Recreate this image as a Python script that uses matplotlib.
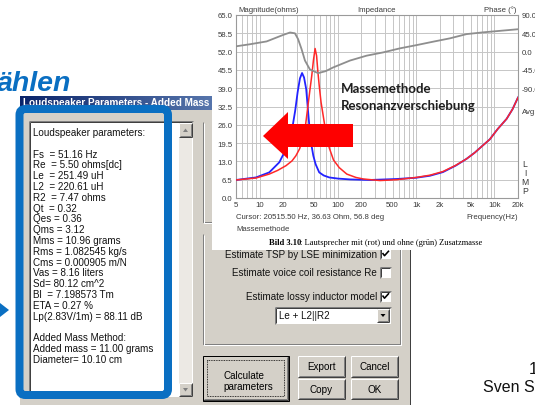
import numpy as np
import matplotlib.pyplot as plt
from matplotlib.patches import Rectangle, FancyBboxPatch, Polygon
from matplotlib.colors import LinearSegmentedColormap
from matplotlib.ticker import LogLocator, NullFormatter

plt.rcParams['font.family'] = ['Liberation Sans', 'DejaVu Sans']

# Impedanz ohne Zusatzmasse (blau): Frequenz in Hz, Betrag in Ohm
freq_ohne = [5, 9, 13.3, 17.9, 21.8, 24, 26.5, 28.5, 30.6, 32.8, 34.9, 37, 39.4, 41.3,
             43.2, 45.5, 48.6, 52, 57.8, 66, 77.7, 100, 143, 255, 564, 1000, 1500, 2200,
             3200, 4400, 5600, 7000, 8700, 11000, 14300, 17000, 20000]
z_ohne = [6.4, 7.3, 9.1, 12.7, 17.4, 21, 25.7, 31, 37.5, 42.5, 44.4, 42.8, 38.7, 32,
          25.7, 19.5, 15.0, 12, 9.1, 8.0, 7.3, 6.9, 6.6, 6.4, 6.75, 7.2, 7.9, 9.2,
          11.5, 13.9, 16.1, 18.5, 20.8, 24.5, 28.1, 31.5, 35.7]

# Impedanz mit Zusatzmasse (rot)
freq_mit = [5, 9, 13.3, 17, 21.8, 26, 29.1, 32.5, 35.6, 38.5, 41, 43.8, 46.4, 48.8, 51.2,
            53.5, 55.5, 57.8, 61, 65, 71, 77.7, 88, 104, 130, 170, 212, 345, 564, 1000,
            1500, 2200, 3200, 4400, 5600, 7000, 8700, 11000, 14300, 17000, 20000]
z_mit = [6.4, 7.1, 8.5, 9.8, 11.5, 13.2, 15.0, 17.5, 21.0, 25.5, 31.6, 38.0, 43.4, 49.0, 53.1,
         50.5, 45, 39.9, 34.0, 29.2, 22.5, 17.8, 13.5, 10.8, 8.5, 7.3, 6.75, 6.2, 6.5, 7.3,
         8.1, 9.4, 11.6, 13.9, 16.1, 18.5, 20.8, 24.5, 28.1, 31.5, 35.7]

# Phase (grau) in Grad
freq_phase = [5, 7.5, 12.3, 20, 24.5, 28.3, 31, 34.4, 38, 44, 56, 70, 87, 143, 233, 378,
              621, 1015, 1660, 2700, 4400, 7200, 11700, 20000]
phase_deg = [13, 18, 25, 41, 47, 45, 31, 6, -22, -44, -53, -48, -39, -22, -10, -2,
             8, 16, 24.5, 32.6, 43, 47.4, 51, 55]

mag_ticks = [0.0, 6.5, 13.0, 19.5, 26.0, 32.5, 39.0, 45.5, 52.0, 58.5, 65.0]
phase_ticks = [-90, -45, 0, 45, 90]
freq_ticks = [5, 10, 20, 50, 100, 200, 500, 1000, 2000, 5000, 10000, 20000]
freq_labels = ['5', '10', '20', '50', '100', '200', '500', '1k', '2k', '5k', '10k', '20k']

params = ['Loudspeaker parameters:', '',
          'Fs  = 51.16 Hz', 'Re  = 5.50 ohms[dc]', 'Le  = 251.49 uH', 'L2  = 220.61 uH',
          'R2  = 7.47 ohms', 'Qt  = 0.32', 'Qes = 0.36', 'Qms = 3.12', 'Mms = 10.96 grams',
          'Rms = 1.082545 kg/s', 'Cms = 0.000905 m/N', 'Vas = 8.16 liters',
          'Sd= 80.12 cm^2', 'Bl  = 7.198573 Tm', 'ETA = 0.27 %',
          'Lp(2.83V/1m) = 88.11 dB', '',
          'Added Mass Method:', 'Added mass = 11.00 grams', 'Diameter= 10.10 cm']

options = ['Estimate TSP by LSE minimization', 'Estimate voice coil resistance Re',
           'Estimate lossy inductor model']
options_on = [True, False, True]

W, H = 535, 406
PX = 0.72
GREY = '#d4d0c8'
BLUE = '#0a6fc2'
FS = 7.1

fig = plt.figure(figsize=(W / 100, H / 100), dpi=100)
bg = fig.add_axes([0, 0, 1, 1])
bg.axis('off')


def box(x0, y0, x1, y1, fc, ec='none', lw=1, z=1):
    bg.add_patch(Rectangle((x0, y0), x1 - x0, y1 - y0, fc=fc, ec=ec, lw=lw * PX, zorder=z))


def line(xs, ys, c, lw=1, z=3, ls='-'):
    bg.plot(xs, ys, color=c, lw=lw * PX, zorder=z, ls=ls, solid_capstyle='butt')


def raised(x0, y0, x1, y1, z=3):
    box(x0, y0, x1, y1, GREY, z=z)
    line([x0, x1], [y0, y0], 'white', z=z)
    line([x0, x0], [y0, y1], 'white', z=z)
    line([x0, x1], [y1, y1], '#404040', z=z)
    line([x1, x1], [y0, y1], '#404040', z=z)
    line([x0 + 1, x1 - 1], [y1 - 1, y1 - 1], '#808080', z=z)
    line([x1 - 1, x1 - 1], [y0 + 1, y1 - 1], '#808080', z=z)


def sunken(x0, y0, x1, y1, z=3):
    box(x0, y0, x1, y1, 'white', z=z)
    line([x0, x1], [y0, y0], '#808080', z=z)
    line([x0, x0], [y0, y1], '#808080', z=z)
    line([x0 + 1, x1 - 1], [y0 + 1, y0 + 1], '#404040', z=z)
    line([x0 + 1, x0 + 1], [y0 + 1, y1 - 1], '#404040', z=z)


def etched(xs, ys, z=3):
    line(xs, ys, '#808080', z=z)
    line([x + 1 for x in xs], [y + 1 for y in ys], 'white', z=z)


# dialog window
box(20, 97, 410, 430, GREY, z=1)
line([410, 410], [97, 406], '#404040', z=1)
grad = np.linspace(0, 1, 200)[None, :]
title_cmap = LinearSegmentedColormap.from_list('t', ['#0a246a', '#a6caf0'])
bg.imshow(grad, extent=(20, 410, 111, 97), aspect='auto', cmap=title_cmap, zorder=2)
bg.text(23, 103.5, 'Loudspeaker Parameters - Added Mass', color='white',
        fontsize=7.2, fontweight='bold', va='center', zorder=3)

# text box with parameter list
sunken(29, 122, 193, 398)
box(179, 124, 192, 397, '#ece9e4', z=3)
raised(179, 124, 192, 138, z=4)
raised(179, 384, 192, 397, z=4)
bg.add_patch(Polygon([(183, 133), (188, 133), (185.5, 129.5)], fc='#808080', zorder=5))
bg.add_patch(Polygon([(183, 389), (188, 389), (185.5, 392.5)], fc='#808080', zorder=5))
for i, s in enumerate(params):
    bg.text(33, 133 + 10.8 * i, s, fontsize=FS, va='center', color='#111111', zorder=4)

bg.add_patch(FancyBboxPatch((19.5, 110), 148.5, 286, boxstyle='round,pad=0,rounding_size=6',
                            fc='none', ec=BLUE, lw=8 * PX, zorder=6))
bg.add_patch(Polygon([(0, 304), (9, 311), (0, 318)], fc=BLUE, ec='none', zorder=6))

# right side of the dialog
etched([203, 203, 400], [123, 223, 223])
etched([203, 203, 400, 400], [235, 345, 345, 235])
for k, (s, on) in enumerate(zip(options, options_on)):
    y = [254.5, 273.5, 297][k]
    bg.text(377, y, s, fontsize=FS, ha='right', va='center', color='#111111', zorder=4)
    sunken(380, y - 5.5, 391, y + 5.5)
    if on:
        line([382.5, 384.5, 389], [y - 0.5, y + 2.2, y - 2.8], 'black', lw=1.6, z=5)
sunken(275, 308, 391, 325)
raised(377, 310, 389, 323, z=4)
bg.add_patch(Polygon([(380.5, 315), (385.5, 315), (383, 318)], fc='black', zorder=5))
bg.text(279, 316.5, 'Le + L2||R2', fontsize=FS, va='center', color='#111111', zorder=4)

raised(203, 357, 288, 401)
bg.add_patch(Rectangle((202.5, 356.5), 86, 45, fc='none', ec='black', lw=PX, zorder=4))
bg.add_patch(Rectangle((207, 361), 77, 36, fc='none', ec='black', lw=0.6, ls=(0, (1, 1)), zorder=4))
bg.text(223, 376, 'Calculate', fontsize=FS, va='center', zorder=5)
bg.text(223, 387, 'parameters', fontsize=FS, va='center', zorder=5)
for (x0, y0, x1, y1), s in zip([(298, 357, 345, 378), (351, 357, 398, 378),
                                 (298, 380, 345, 400), (351, 380, 398, 400)],
                                ['Export', 'Cancel', 'Copy', 'OK']):
    raised(x0, y0, x1, y1)
    bg.text((x0 + x1) / 2, (y0 + y1) / 2, s, fontsize=FS, ha='center', va='center', zorder=5)

# slide text
bg.text(-3, 91, 'ählen', color=BLUE, fontsize=20.5, fontweight='bold', fontstyle='italic', zorder=2)
bg.text(529, 374, '1', fontsize=12, color='#111111', zorder=2)
bg.text(483, 392, 'Sven Sylla', fontsize=11.5, color='#111111', zorder=2)

# chart screenshot background and labels
box(212, 0, 535, 251, 'white', z=8)
small = dict(fontsize=5.6, color='#3a3a3a', zorder=9, va='center')
bg.text(238, 10, 'Magnitude(ohms)', **small)
bg.text(377, 10, 'Impedance', ha='center', **small)
bg.text(516, 10, 'Phase (°)', ha='right', **small)
bg.text(522, 112, 'Avg:', **small)
for k, ch in enumerate('LIMP'):
    bg.text(525, 165 + 9 * k, ch, ha='center', fontsize=6.2, color='#3a3a3a', zorder=9, va='center')
bg.text(236, 218, 'Cursor: 20515.50 Hz, 36.63 Ohm, 56.8 deg', **small)
bg.text(518, 218, 'Frequency(Hz)', ha='right', **small)
bg.text(236, 229.5, 'Massemethode', **small)
bg.text(269, 243, 'Bild 3.10', fontsize=6.1, fontweight='bold', family=['Liberation Serif'],
        va='center', zorder=9)
bg.text(300.5, 243, ': Lautsprecher mit (rot) und ohne (grün) Zusatzmasse', fontsize=6.1,
        family=['Liberation Serif'], va='center', zorder=9)

bg.set_xlim(0, W)
bg.set_ylim(H, 0)

# impedance chart
ax = fig.add_axes([236 / W, 1 - 199 / H, 282 / W, 183 / H])
ax.set_xscale('log')
ax.plot(freq_ohne, z_ohne, color='#2222ff', lw=1.3, zorder=3)
ax.plot(freq_mit, z_mit, color='#ff2828', lw=1.1, zorder=3)
ax.set_xlim(5, 20000)
ax.set_ylim(0, 65)
ax.set_yticks(mag_ticks)
ax.set_yticklabels([f'{v:.1f}' for v in mag_ticks])
ax.set_xticks(freq_ticks)
ax.set_xticklabels(freq_labels)
ax.xaxis.set_minor_locator(LogLocator(base=10, subs=np.arange(2, 10) * 1.0, numticks=20))
ax.xaxis.set_minor_formatter(NullFormatter())
ax.grid(True, which='both', color='#c6c6c6', lw=0.7)
ax.set_axisbelow(True)
ax.tick_params(which='both', length=0, labelsize=5.6, colors='#3a3a3a', pad=2.5)
for s in ax.spines.values():
    s.set_color('#9a9a9a')
    s.set_linewidth(0.8)

ax2 = ax.twinx()
ax2.plot(freq_phase, phase_deg, color='#8e8e8e', lw=1.3)
ax2.set_ylim(-360, 90)
ax2.set_yticks(phase_ticks)
ax2.set_yticklabels([f'{v:.1f}' for v in phase_ticks])
ax2.tick_params(length=0, labelsize=5.6, colors='#3a3a3a', pad=2.5)
for s in ax2.spines.values():
    s.set_visible(False)

# annotations on top
ov = fig.add_axes([0, 0, 1, 1])
ov.axis('off')
ov.set_xlim(0, W)
ov.set_ylim(H, 0)
ov.add_patch(Polygon([(263, 137), (288, 113), (288, 125), (353, 125), (353, 148),
                      (288, 148), (288, 160)], fc='#fe0000', ec='none'))
ov.text(341, 89, 'Massemethode', fontsize=9.5, fontweight='bold', color='#1e1e1e',
        family=['Lato', 'DejaVu Sans'], va='center')
ov.text(341, 106, 'Resonanzverschiebung', fontsize=9.5, fontweight='bold', color='#1e1e1e',
        family=['Lato', 'DejaVu Sans'], va='center')

fig.savefig('out.png', dpi=100)
